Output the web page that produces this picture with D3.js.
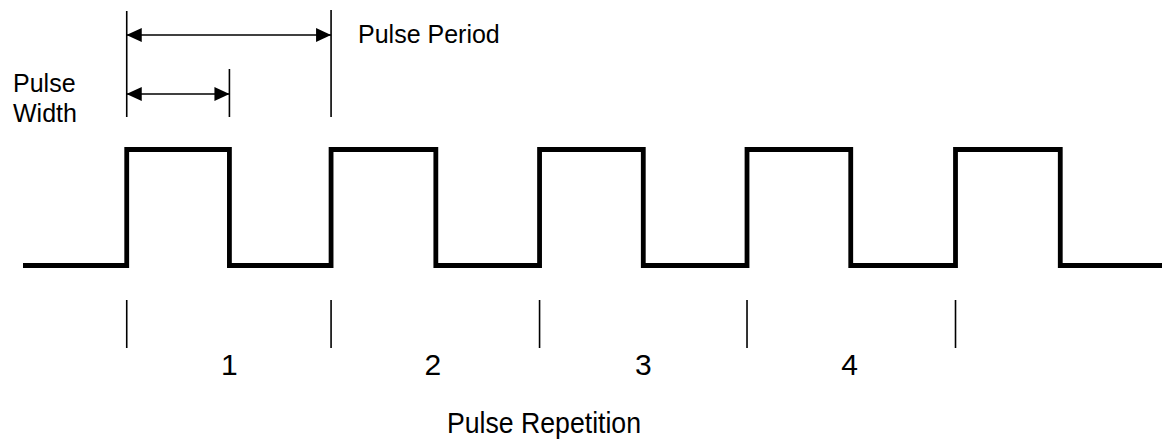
<!DOCTYPE html>
<html>
<head>
<meta charset="utf-8">
<script src="https://cdn.jsdelivr.net/npm/d3@7/dist/d3.min.js"></script>
<style>
  html, body { margin: 0; padding: 0; background: #fff; }
  svg { display: block; }
  text { font-family: "Liberation Sans", Arial, Helvetica, sans-serif; fill: #000; }
</style>
</head>
<body>
<svg id="chart" width="1162" height="442"></svg>
<script>
// ---- data (time units: one pulse width ≈ 1) ----
const edgeTimes = [1.00, 1.99, 2.97, 3.98, 4.98, 5.98, 6.98, 7.98, 8.99, 10.00]; // rise/fall alternating
const startTime = 0;
const endTime = 11;
const lowLevel = 0;
const highLevel = 1;
const repetitionLabels = ["1", "2", "3", "4"];
const periodMarkers = [1.00, 2.97, 4.98, 6.98, 8.99];   // rising edges (tick marks)
const labelTimes = [1.99, 3.95, 5.98, 7.97];             // label positions
const widthSpan = [1.00, 1.99];   // pulse width dimension
const periodSpan = [1.00, 2.97];  // pulse period dimension

// ---- build waveform points from data ----
const wave = [{t: startTime, v: lowLevel}];
let level = lowLevel;
edgeTimes.forEach(t => {
  level = level === lowLevel ? highLevel : lowLevel;
  wave.push({t: t, v: level});
});
wave.push({t: endTime, v: level});

const svg = d3.select("#chart");
svg.append("rect").attr("width", 1162).attr("height", 442).attr("fill", "#fff");

const x = d3.scaleLinear().domain([0, 11]).range([23, 1164]);
const y = d3.scaleLinear().domain([0, 1]).range([265.5, 149.5]);

const line = d3.line().x(d => x(d.t)).y(d => y(d.v)).curve(d3.curveStepAfter);

// waveform
svg.append("path")
  .datum(wave)
  .attr("d", line)
  .attr("fill", "none")
  .attr("stroke", "#000")
  .attr("stroke-width", 4.8)
  .attr("stroke-linejoin", "miter")
  .attr("stroke-linecap", "butt");

// arrow markers
const defs = svg.append("defs");
defs.append("marker").attr("id", "arrEnd")
  .attr("viewBox", "0 0 15 14").attr("refX", 15).attr("refY", 7)
  .attr("markerWidth", 15).attr("markerHeight", 14)
  .attr("markerUnits", "userSpaceOnUse").attr("orient", "auto")
  .append("path").attr("d", "M0,0 L15,7 L0,14 Z").attr("fill", "#000");
defs.append("marker").attr("id", "arrStart")
  .attr("viewBox", "0 0 15 14").attr("refX", 0).attr("refY", 7)
  .attr("markerWidth", 15).attr("markerHeight", 14)
  .attr("markerUnits", "userSpaceOnUse").attr("orient", "auto")
  .append("path").attr("d", "M15,0 L0,7 L15,14 Z").attr("fill", "#000");

// dimension extension lines
const ext = svg.append("g").attr("stroke", "#000").attr("stroke-width", 1.6);
ext.append("line").attr("x1", x(periodSpan[0])).attr("x2", x(periodSpan[0])).attr("y1", 11).attr("y2", 117);
ext.append("line").attr("x1", x(periodSpan[1])).attr("x2", x(periodSpan[1])).attr("y1", 10).attr("y2", 117);
ext.append("line").attr("x1", x(widthSpan[1])).attr("x2", x(widthSpan[1])).attr("y1", 69).attr("y2", 117);

// dimension arrows
svg.append("line")
  .attr("x1", x(periodSpan[0])).attr("x2", x(periodSpan[1]))
  .attr("y1", 35).attr("y2", 35)
  .attr("stroke", "#000").attr("stroke-width", 1.6)
  .attr("marker-start", "url(#arrStart)").attr("marker-end", "url(#arrEnd)");
svg.append("line")
  .attr("x1", x(widthSpan[0])).attr("x2", x(widthSpan[1]))
  .attr("y1", 94).attr("y2", 94)
  .attr("stroke", "#000").attr("stroke-width", 1.6)
  .attr("marker-start", "url(#arrStart)").attr("marker-end", "url(#arrEnd)");

// labels
svg.append("text").attr("x", 358).attr("y", 43).attr("font-size", 25).text("Pulse Period");
svg.append("text").attr("x", 13).attr("y", 92).attr("font-size", 25).text("Pulse");
svg.append("text").attr("x", 13).attr("y", 122).attr("font-size", 25).text("Width");

// repetition tick marks
svg.append("g").selectAll("line").data(periodMarkers).join("line")
  .attr("x1", d => x(d)).attr("x2", d => x(d))
  .attr("y1", 300).attr("y2", 348)
  .attr("stroke", "#000").attr("stroke-width", 1.6);

// repetition numbers
svg.append("g").selectAll("text").data(repetitionLabels).join("text")
  .attr("x", (d, i) => x(labelTimes[i]))
  .attr("y", 375)
  .attr("text-anchor", "middle")
  .attr("font-size", 30)
  .text(d => d);

svg.append("text").attr("x", 447).attr("y", 433).attr("font-size", 29)
  .attr("textLength", 194).attr("lengthAdjust", "spacingAndGlyphs")
  .text("Pulse Repetition");
</script>
</body>
</html>
